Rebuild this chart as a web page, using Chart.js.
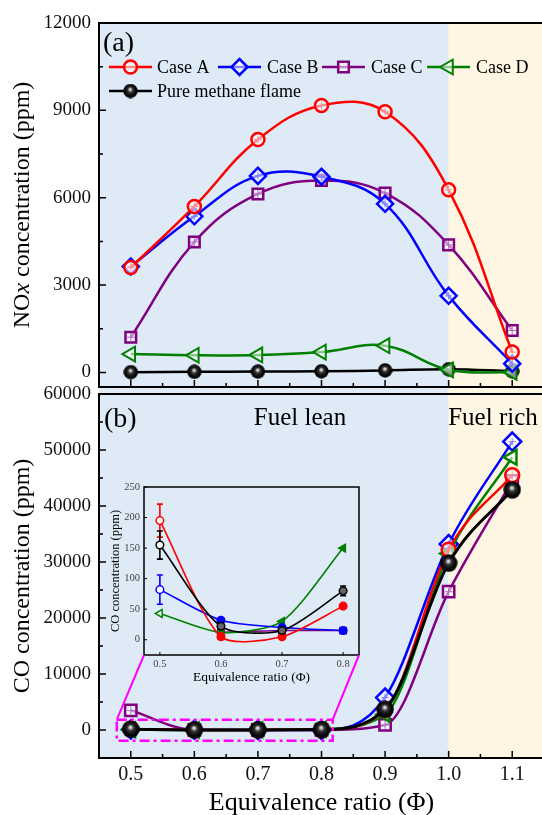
<!DOCTYPE html>
<html><head><meta charset="utf-8">
<script src="https://cdn.jsdelivr.net/npm/chart.js@4.4.0/dist/chart.umd.min.js"></script>
<style>
html,body{margin:0;padding:0;background:#fff;}
#wrap{position:relative;width:542px;height:815px;overflow:hidden;}
#wrap canvas{position:absolute;left:0;top:0;}
</style></head><body>
<div id="wrap">
<canvas id="cTop" width="546" height="815"></canvas>
<canvas id="cBot" width="546" height="815"></canvas>
<canvas id="cIns" width="546" height="815"></canvas>
</div>
<script>
// ---------- DATA ----------
const phi = [0.5, 0.6, 0.7, 0.8, 0.9, 1.0, 1.1];
const seriesNames = ['Case A', 'Case B', 'Case C', 'Case D', 'Pure methane flame'];
// (a) NOx concentration (ppm)
const noxA = [3600, 5700, 8000, 9170, 8950, 6270, 700];
const noxB = [3640, 5360, 6750, 6720, 5790, 2630, 300];
const noxC = [1210, 4480, 6130, 6590, 6160, 4380, 1440];
const noxD = [630, 590, 600, 700, 920, 90, 0];
const noxPure = [10, 20, 30, 40, 70, 110, 40];
// (b) CO concentration (ppm)
const coA = [195, 5, 5, 55, 3600, 32200, 45500];
const coB = [82, 32, 20, 15, 5800, 33200, 51500];
const coC = [3500, 12, 15, 15, 900, 24700, 44500];
const coD = [43, 12, 30, 150, 2800, 31500, 48700];
const coPure = [155, 22, 15, 80, 3700, 29800, 42900];
// inset error bars (ppm), phi = 0.5 .. 0.8
const errA = [27, 0, 0, 4];
const errB = [24, 0, 0, 0];
const errPure = [23, 0, 0, 8];
// ticks
const xMajor = [0.5, 0.6, 0.7, 0.8, 0.9, 1.0, 1.1];
const xMinor = [0.55, 0.65, 0.75, 0.85, 0.95, 1.05];
const noxMajor = [0, 3000, 6000, 9000, 12000];
const noxMinor = [1500, 4500, 7500, 10500];
const coMajor = [0, 10000, 20000, 30000, 40000, 50000, 60000];
const coMinor = [5000, 15000, 25000, 35000, 45000, 55000];
const insXTicks = [0.5, 0.6, 0.7, 0.8];
const insYTicks = [0, 50, 100, 150, 200, 250];
const leanRichBoundary = 1.0;
const zoomBox = {x0: 0.478, x1: 0.8176, y0: -1900, y1: 1850};

// ---------- STYLE ----------
const FONT = "'Liberation Serif','Times New Roman',serif";
const colA = '#FF0000', colB = '#0000FF', colC = '#800080', colD = '#008000', colP = '#000000';
const BLUE_BG = '#DEEAF6', CREAM_BG = '#FEF6E2';
const hollow = 'rgba(255,255,255,0.55)';

function makeSphere(d) {
  const c = document.createElement('canvas');
  c.width = d; c.height = d;
  const g = c.getContext('2d');
  const grd = g.createRadialGradient(d*0.48, d*0.38, 0, d*0.5, d*0.5, d*0.5);
  grd.addColorStop(0, '#ffffff');
  grd.addColorStop(0.15, '#bbbbbb');
  grd.addColorStop(0.35, '#333333');
  grd.addColorStop(0.7, '#0a0a0a');
  grd.addColorStop(1, '#000000');
  g.fillStyle = grd;
  g.beginPath(); g.arc(d/2, d/2, d/2 - 0.3, 0, Math.PI*2); g.fill();
  return c;
}
const sphereTop = makeSphere(15);
const sphereBot = makeSphere(18);

function pts(xs, ys) { return xs.map((x, i) => ({x: x, y: ys[i]})); }

function drawMarker(ctx, style, r, x, y, rot, fill, stroke, bw) {
  ctx.save();
  ctx.translate(x, y);
  if (style instanceof HTMLCanvasElement) {
    ctx.drawImage(style, -style.width/2, -style.height/2);
    ctx.restore(); return;
  }
  ctx.rotate((rot || 0) * Math.PI / 180);
  ctx.beginPath();
  if (style === 'circle') ctx.arc(0, 0, r, 0, Math.PI*2);
  else if (style === 'rectRot') { ctx.moveTo(0,-r); ctx.lineTo(r,0); ctx.lineTo(0,r); ctx.lineTo(-r,0); ctx.closePath(); }
  else if (style === 'rect') { const s = r*Math.SQRT1_2; ctx.rect(-s,-s,2*s,2*s); }
  else if (style === 'triangle') {
    ctx.moveTo(0,-r); ctx.lineTo(0.866*r, 0.5*r); ctx.lineTo(-0.866*r, 0.5*r); ctx.closePath();
  }
  ctx.fillStyle = fill; ctx.fill();
  ctx.lineWidth = bw; ctx.strokeStyle = stroke; ctx.stroke();
  ctx.restore();
}

function fixFit(vertical, size) {
  return function(s) {
    if (vertical) s.width = size; else s.height = size;
    s.paddingLeft = 0; s.paddingRight = 0; s.paddingTop = 0; s.paddingBottom = 0;
  };
}
function setTicks(list) { return function(s) { s.ticks = list.map(v => ({value: v})); }; }

function fillBackground(chart, extraBottom) {
  const {ctx, chartArea: a, scales: {x}} = chart;
  const xb = x.getPixelForValue(leanRichBoundary);
  ctx.save();
  ctx.fillStyle = BLUE_BG; ctx.fillRect(a.left, a.top, xb - a.left, a.bottom - a.top + extraBottom);
  ctx.fillStyle = CREAM_BG; ctx.fillRect(xb, a.top, a.right - xb + 4, a.bottom - a.top + extraBottom);
  ctx.restore();
}
function drawFrame(chart, lw) {
  const {ctx, chartArea: a} = chart;
  ctx.save(); ctx.strokeStyle = '#000'; ctx.lineWidth = lw;
  ctx.strokeRect(a.left, a.top, a.right - a.left, a.bottom - a.top);
  ctx.restore();
}
function drawInTicks(chart, xMaj, xMin, yMaj, yMin, lMaj, lMin, lw) {
  const {ctx, chartArea: a, scales: {x, y}} = chart;
  ctx.save(); ctx.strokeStyle = '#000'; ctx.lineWidth = lw;
  ctx.beginPath();
  xMaj.forEach(v => { const p = x.getPixelForValue(v); ctx.moveTo(p, a.bottom); ctx.lineTo(p, a.bottom - lMaj); });
  xMin.forEach(v => { const p = x.getPixelForValue(v); ctx.moveTo(p, a.bottom); ctx.lineTo(p, a.bottom - lMin); });
  yMaj.forEach(v => { const p = y.getPixelForValue(v); ctx.moveTo(a.left, p); ctx.lineTo(a.left + lMaj, p); });
  yMin.forEach(v => { const p = y.getPixelForValue(v); ctx.moveTo(a.left, p); ctx.lineTo(a.left + lMin, p); });
  ctx.stroke(); ctx.restore();
}
function text(ctx, str, x, y, size, align, rotate) {
  ctx.save();
  ctx.translate(x, y);
  if (rotate) ctx.rotate(-Math.PI/2);
  ctx.font = size + 'px ' + FONT;
  ctx.fillStyle = '#000';
  ctx.textAlign = align || 'center';
  ctx.textBaseline = 'middle';
  ctx.fillText(str, 0, 0);
  ctx.restore();
}

const crossPlugin = {
  id: 'crossPlugin',
  afterDatasetDraw(chart, args) {
    const ds = chart.data.datasets[args.index];
    if (!ds.crossLen) return;
    const ctx = chart.ctx, a = chart.chartArea;
    ctx.save(); ctx.strokeStyle = ds.crossColor; ctx.lineWidth = 1;
    ctx.beginPath();
    args.meta.data.forEach(el => {
      if (el.x < a.left || el.x > a.right || el.y < a.top || el.y > a.bottom) return;
      const L = ds.crossLen;
      ctx.moveTo(el.x - L, el.y); ctx.lineTo(el.x + L, el.y);
      ctx.moveTo(el.x, el.y - L); ctx.lineTo(el.x, el.y + L);
    });
    ctx.stroke(); ctx.restore();
  }
};
const errPlugin = {
  id: 'errPlugin',
  beforeDatasetDraw(chart, args) {
    const ds = chart.data.datasets[args.index];
    if (!ds.err) return;
    const ctx = chart.ctx, ys = chart.scales.y;
    ctx.save(); ctx.strokeStyle = ds.borderColor; ctx.lineWidth = 1.6;
    ctx.beginPath();
    args.meta.data.forEach((el, i) => {
      const e = ds.err[i]; if (!e) return;
      const v = ds.data[i].y;
      const t = ys.getPixelForValue(v + e), b = ys.getPixelForValue(v - e);
      ctx.moveTo(el.x, t); ctx.lineTo(el.x, b);
      ctx.moveTo(el.x - 3, t); ctx.lineTo(el.x + 3, t);
      ctx.moveTo(el.x - 3, b); ctx.lineTo(el.x + 3, b);
    });
    ctx.stroke(); ctx.restore();
  }
};

function ds(label, xs, ys, color, style, r, bw, extra) {
  return Object.assign({
    label: label, data: pts(xs, ys), borderColor: color, borderWidth: 2.5,
    pointStyle: style, pointRadius: r, pointBorderWidth: bw, pointBorderColor: color,
    pointBackgroundColor: hollow, tension: 0.4, fill: false
  }, extra || {});
}

const baseOpts = {
  responsive: false, animation: false, events: [],
  plugins: {legend: {display: false}, tooltip: {enabled: false}}
};

// ---------- (a) TOP CHART ----------
const topDatasets = [
  ds(seriesNames[0], phi, noxA, colA, 'circle', 6.5, 2.5, {crossLen: 4, crossColor: '#ff9090'}),
  ds(seriesNames[1], phi, noxB, colB, 'rectRot', 8, 2.5, {crossLen: 3.5, crossColor: '#8080ff'}),
  ds(seriesNames[2], phi, noxC, colC, 'rect', 7.5, 2.5, {crossLen: 4, crossColor: '#b070c0'}),
  ds(seriesNames[3], phi, noxD, colD, 'triangle', 8.5, 2, {pointRotation: -90}),
  ds(seriesNames[4], phi, noxPure, colP, sphereTop, 7, 0, {})
];
const legendItems = [
  {i: 0, x0: 109, tx: 157, y: 67},
  {i: 1, x0: 218, tx: 267, y: 67},
  {i: 2, x0: 322, tx: 371, y: 67},
  {i: 3, x0: 427, tx: 476, y: 67},
  {i: 4, x0: 109, tx: 157, y: 91}
];
new Chart(document.getElementById('cTop'), {
  type: 'line',
  data: {datasets: topDatasets},
  options: Object.assign({}, baseOpts, {
    layout: {autoPadding: false, padding: {left: 0, top: 23, right: 2, bottom: 428}},
    scales: {
      x: {type: 'linear', min: 0.45, max: 1.15, grid: {display: false, drawTicks: false}, border: {display: false},
          ticks: {display: false}, afterFit: fixFit(false, 0), afterBuildTicks: setTicks(xMajor)},
      y: {type: 'linear', min: -500, max: 12000, grid: {display: false, drawTicks: false}, border: {display: false},
          ticks: {padding: 8, color: '#111', font: {family: FONT, size: 19}, callback: v => String(v)},
          afterFit: fixFit(true, 99), afterBuildTicks: setTicks(noxMajor)}
    }
  }),
  plugins: [crossPlugin, {
    id: 'topDecor',
    beforeDatasetsDraw(chart) { fillBackground(chart, 8); },
    afterDraw(chart) {
      const ctx = chart.ctx;
      drawFrame(chart, 2);
      drawInTicks(chart, xMajor, xMinor, noxMajor, noxMinor, 7, 4, 1.5);
      text(ctx, '(a)', 103, 44, 28, 'left');
      // legend
      legendItems.forEach(it => {
        const d = chart.data.datasets[it.i];
        ctx.save(); ctx.strokeStyle = d.borderColor; ctx.lineWidth = 2.5;
        ctx.beginPath(); ctx.moveTo(it.x0, it.y); ctx.lineTo(it.x0 + 43, it.y); ctx.stroke(); ctx.restore();
        drawMarker(ctx, d.pointStyle, d.pointRadius, it.x0 + 21.5, it.y, d.pointRotation || 0, hollow, d.borderColor, d.pointBorderWidth);
        text(ctx, d.label, it.tx, it.y + 1, 18, 'left');
      });
      // y title: NOx concentration (ppm) with italic x
      ctx.save();
      ctx.translate(23, 205); ctx.rotate(-Math.PI/2);
      ctx.fillStyle = '#000'; ctx.textBaseline = 'middle'; ctx.textAlign = 'left';
      const parts = [['NO', ''], ['x', 'italic '], [' concentration (ppm)', '']];
      let tot = 0;
      parts.forEach(p => { ctx.font = p[1] + '24px ' + FONT; tot += ctx.measureText(p[0]).width; });
      let cx = -tot/2;
      parts.forEach(p => { ctx.font = p[1] + '24px ' + FONT; ctx.fillText(p[0], cx, 0); cx += ctx.measureText(p[0]).width; });
      ctx.restore();
    }
  }]
});

// ---------- (b) BOTTOM CHART ----------
const botDatasets = [
  ds(seriesNames[4], phi, coPure, colP, sphereBot, 9, 0, {cubicInterpolationMode: 'monotone', borderWidth: 3}),
  ds(seriesNames[0], phi, coA, colA, 'circle', 7, 2.5, {cubicInterpolationMode: 'monotone', crossLen: 4, crossColor: '#ff9090'}),
  ds(seriesNames[3], phi, coD, colD, 'triangle', 8.5, 2.5, {cubicInterpolationMode: 'monotone', pointRotation: -90}),
  ds(seriesNames[1], phi, coB, colB, 'rectRot', 9, 2.5, {cubicInterpolationMode: 'monotone', crossLen: 3.5, crossColor: '#8080ff'}),
  ds(seriesNames[2], phi, coC, colC, 'rect', 8, 2.5, {cubicInterpolationMode: 'monotone', crossLen: 4, crossColor: '#b070c0'})
];
const botChart = new Chart(document.getElementById('cBot'), {
  type: 'line',
  data: {datasets: botDatasets},
  options: Object.assign({}, baseOpts, {
    layout: {autoPadding: false, padding: {left: 0, top: 394, right: 2, bottom: 0}},
    scales: {
      x: {type: 'linear', min: 0.45, max: 1.15, grid: {display: false, drawTicks: false}, border: {display: false},
          ticks: {padding: 5, color: '#111', font: {family: FONT, size: 20}, maxRotation: 0, autoSkip: false, callback: v => v.toFixed(1)},
          afterFit: fixFit(false, 57), afterBuildTicks: setTicks(xMajor)},
      y: {type: 'linear', min: -5000, max: 60000, grid: {display: false, drawTicks: false}, border: {display: false},
          ticks: {padding: 8, color: '#111', font: {family: FONT, size: 19}, callback: v => String(v)},
          afterFit: fixFit(true, 99), afterBuildTicks: setTicks(coMajor)}
    }
  }),
  plugins: [crossPlugin, {
    id: 'botDecor',
    beforeDatasetsDraw(chart) {
      fillBackground(chart, 0);
      const ctx = chart.ctx;
      text(ctx, '(b)', 104, 420, 28, 'left');
      text(ctx, 'Fuel lean', 300, 418, 25, 'center');
      text(ctx, 'Fuel rich', 493, 418, 25, 'center');
    },
    afterDraw(chart) {
      const ctx = chart.ctx, {x, y} = chart.scales;
      drawFrame(chart, 2);
      drawInTicks(chart, xMajor, xMinor, coMajor, coMinor, 7, 4, 1.5);
      // zoom box
      ctx.save(); ctx.strokeStyle = '#FF00FF'; ctx.lineWidth = 2.5; ctx.setLineDash([10, 4, 3, 4]);
      const px0 = x.getPixelForValue(zoomBox.x0), px1 = x.getPixelForValue(zoomBox.x1);
      const py0 = y.getPixelForValue(zoomBox.y0), py1 = y.getPixelForValue(zoomBox.y1);
      ctx.strokeRect(px0, py1, px1 - px0, py0 - py1);
      ctx.restore();
      text(ctx, 'Equivalence ratio (\u03A6)', (chart.chartArea.left + chart.chartArea.right)/2, 803, 26, 'center');
      text(ctx, 'CO concentration (ppm)', 23, (chart.chartArea.top + chart.chartArea.bottom)/2, 24, 'center', true);
    }
  }]
});

// ---------- INSET ----------
const iphi = phi.slice(0, 4);
function ids(label, xs, ys, color, style, r, bgs, extra) {
  return Object.assign({
    label: label, data: pts(xs, ys), borderColor: color, borderWidth: 1.6,
    pointStyle: style, pointRadius: r, pointBorderWidth: 1.5, pointBorderColor: color,
    pointBackgroundColor: bgs, tension: 0.25, fill: false
  }, extra || {});
}
const insDatasets = [
  ids(seriesNames[4], iphi, coPure.slice(0, 4), colP, 'circle', 3.8, ['#fff', '#666', '#666', '#666'], {err: errPure}),
  ids(seriesNames[0], iphi, coA.slice(0, 4), colA, 'circle', 3.8, ['#fff', colA, colA, colA], {err: errA}),
  ids(seriesNames[1], iphi, coB.slice(0, 4), colB, 'circle', 3.8, ['#fff', colB, colB, colB], {err: errB}),
  ids(seriesNames[3], iphi, coD.slice(0, 4), colD, 'triangle', 4.5, ['#fff', colD, colD, colD], {pointRotation: -90}),
  ids(seriesNames[2], phi.slice(1, 4), coC.slice(1, 4), colC, 'rect', 4.5, '#fff', {})
];
new Chart(document.getElementById('cIns'), {
  type: 'line',
  data: {datasets: insDatasets},
  options: Object.assign({}, baseOpts, {
    layout: {autoPadding: false, padding: {left: 104, top: 487, right: 187, bottom: 135}},
    scales: {
      x: {type: 'linear', min: 0.474, max: 0.826, grid: {display: false, drawTicks: false}, border: {display: false},
          ticks: {padding: 3, color: '#444', font: {family: FONT, size: 10.5}, maxRotation: 0, autoSkip: false, callback: v => v.toFixed(1)},
          afterFit: fixFit(false, 25), afterBuildTicks: setTicks(insXTicks)},
      y: {type: 'linear', min: -25, max: 250, grid: {display: false, drawTicks: false}, border: {display: false},
          ticks: {padding: 4, color: '#444', font: {family: FONT, size: 10.5}, callback: v => String(v)},
          afterFit: fixFit(true, 40), afterBuildTicks: setTicks(insYTicks)}
    }
  }),
  plugins: [errPlugin, {
    id: 'insDecor',
    beforeDatasetsDraw(chart) {
      const {ctx, chartArea: a} = chart;
      ctx.save(); ctx.fillStyle = BLUE_BG; ctx.fillRect(a.left, a.top, a.right - a.left, a.bottom - a.top); ctx.restore();
    },
    afterDraw(chart) {
      const {ctx, chartArea: a} = chart;
      drawFrame(chart, 1.5);
      drawInTicks(chart, insXTicks, [], insYTicks, [], 3, 0, 1);
      // connectors to zoom box of main chart
      const bx = botChart.scales.x, by = botChart.scales.y;
      ctx.save(); ctx.strokeStyle = '#FF00FF'; ctx.lineWidth = 2;
      ctx.beginPath();
      ctx.moveTo(a.left, a.bottom); ctx.lineTo(bx.getPixelForValue(zoomBox.x0), by.getPixelForValue(zoomBox.y1));
      ctx.moveTo(a.right, a.bottom); ctx.lineTo(bx.getPixelForValue(zoomBox.x1), by.getPixelForValue(zoomBox.y1));
      ctx.stroke(); ctx.restore();
      text(ctx, 'Equivalence ratio (\u03A6)', (a.left + a.right)/2, 677, 13.5, 'center');
      text(ctx, 'CO concentration (ppm)', 116, (a.top + a.bottom)/2, 12.5, 'center', true);
    }
  }]
});
</script>
</body></html>
